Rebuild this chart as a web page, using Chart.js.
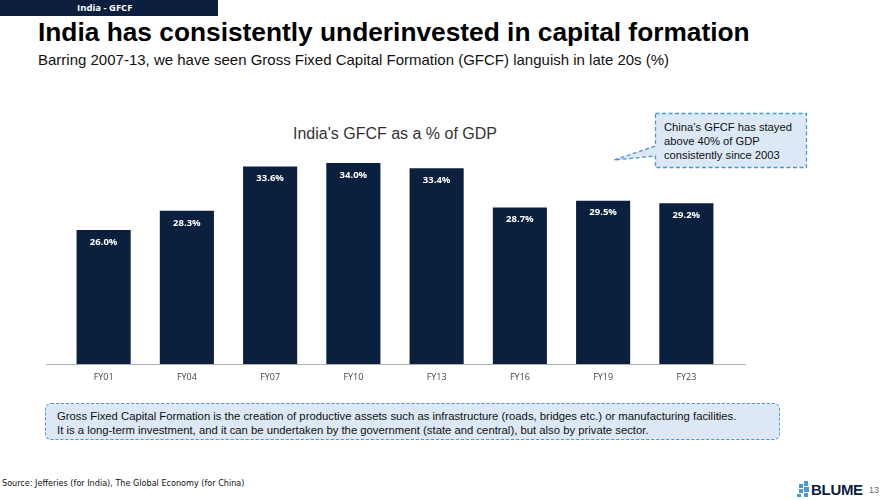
<!DOCTYPE html>
<html>
<head>
<meta charset="utf-8">
<script src="https://cdn.jsdelivr.net/npm/chart.js@4"></script>
<style>
body{margin:0;width:885px;height:500px;background:#fff;position:relative;overflow:hidden;font-family:Arial,"Liberation Sans",sans-serif;}
.tag{position:absolute;left:0;top:0;width:218px;height:16px;background:#0c1f3f;color:#fff;font:bold 9.5px "Open Sans",sans-serif;line-height:16px;padding-left:77px;box-sizing:border-box;}
.title{position:absolute;left:38px;top:17px;font:bold 26.3px Arial,"Liberation Sans",sans-serif;color:#000;white-space:nowrap;}
.sub{position:absolute;left:38px;top:51px;font:15px Arial,"Liberation Sans",sans-serif;color:#111;white-space:nowrap;}
.ctitle{position:absolute;left:0;width:790px;top:125px;text-align:center;font:16px Arial,"Liberation Sans",sans-serif;color:#333;}
.note{position:absolute;left:45px;top:403px;width:735px;height:37px;box-sizing:border-box;background:#dce8f5;border:1.3px dashed #4a97d6;border-radius:6px;font:11.3px Arial,"Liberation Sans",sans-serif;color:#111;padding:5px 0 0 11px;line-height:14px;}
.src{position:absolute;left:2px;top:478px;font:9px "Liberation Sans Narrow","DejaVu Sans Condensed",sans-serif;color:#111;}
.logo{position:absolute;left:811px;top:481px;font:bold 15px "Liberation Sans Narrow",Arial,sans-serif;color:#0c1f3f;letter-spacing:-0.3px;}
.pg{position:absolute;left:869px;top:485px;font:9px Arial,sans-serif;color:#666;}
#wrap{position:absolute;left:46px;top:138px;width:700px;height:250px;}
</style>
</head>
<body>
<div class="tag">India - GFCF</div>
<div class="title">India has consistently underinvested in capital formation</div>
<div class="sub">Barring 2007-13, we have seen Gross Fixed Capital Formation (GFCF) languish in late 20s (%)</div>
<div class="ctitle">India's GFCF as a % of GDP</div>
<svg style="position:absolute;left:0;top:0" width="885" height="500">
  <path d="M655.5,113.5 H806.5 V167.5 H655.5 V156 L614,160 L655.5,146 Z" fill="#dce8f5" stroke="#4a97d6" stroke-width="1.3" stroke-dasharray="4,2.5"/>
  <text x="664" y="131" font-family="Arial, Liberation Sans, sans-serif" font-size="11.2" fill="#111">China’s GFCF has stayed</text>
  <text x="664" y="145" font-family="Arial, Liberation Sans, sans-serif" font-size="11.2" fill="#111">above 40% of GDP</text>
  <text x="664" y="159" font-family="Arial, Liberation Sans, sans-serif" font-size="11.2" fill="#111">consistently since 2003</text>
  <g transform="translate(797,481)" fill="#4a97d6">
    <rect x="2" y="3" width="4" height="4"/><rect x="7" y="0" width="4" height="5"/><rect x="7" y="6" width="5" height="5"/><rect x="2" y="8" width="4" height="4"/><rect x="7" y="12" width="4" height="4"/><rect x="0" y="13" width="4" height="3"/>
  </g>
</svg>
<div id="wrap"><canvas id="c"></canvas></div>
<div class="note">Gross Fixed Capital Formation is the creation of productive assets such as infrastructure (roads, bridges etc.) or manufacturing facilities.<br>It is a long-term investment, and it can be undertaken by the government (state and central), but also by private sector.</div>
<div class="src">Source: Jefferies (for India), The Global Economy (for China)</div>
<div class="logo">BLUME</div>
<div class="pg">13</div>
<script>
const years = ["FY01", "FY04", "FY07", "FY10", "FY13", "FY16", "FY19", "FY23"];
const gfcf = [26.0, 28.3, 33.6, 34.0, 33.4, 28.7, 29.5, 29.2];

const extras = {
  id: "extras",
  afterDraw(chart) {
    const ctx = chart.ctx, a = chart.chartArea;
    ctx.save();
    ctx.strokeStyle = "#b0b0b0";
    ctx.lineWidth = 1;
    ctx.beginPath();
    ctx.moveTo(0, a.bottom + 0.5);
    ctx.lineTo(chart.width, a.bottom + 0.5);
    ctx.stroke();
    ctx.fillStyle = "#fff";
    ctx.font = "bold 9.5px 'Open Sans', sans-serif";
    ctx.textAlign = "center";
    ctx.textBaseline = "middle";
    chart.getDatasetMeta(0).data.forEach((b, i) => {
      ctx.fillText(gfcf[i].toFixed(1) + "%", b.x, b.y + 12);
    });
    ctx.restore();
  }
};

function showChart () {
  new Chart(document.getElementById("c"), {
    type: "bar",
    data: {
      labels: years,
      datasets: [{
        data: gfcf,
        backgroundColor: "#0b1f3e",
        borderWidth: 0,
        categoryPercentage: 0.65,
        barPercentage: 1
      }]
    },
    options: {
      responsive: true,
      maintainAspectRatio: false,
      animation: false,
      layout: { padding: { left: 16, right: 18, top: 0, bottom: 0 } },
      plugins: { legend: { display: false }, tooltip: { enabled: false } },
      scales: {
        y: { display: false, min: 10, max: 37 },
        x: {
          grid: { display: false },
          border: { display: false },
          ticks: { color: "#444", font: { size: 9, family: "'Open Sans', sans-serif" }, padding: 0 },
          afterFit: s => { s.height = 24; }
        }
      }
    },
    plugins: [extras]
  });
}
showChart ()
</script>
</body>
</html>
